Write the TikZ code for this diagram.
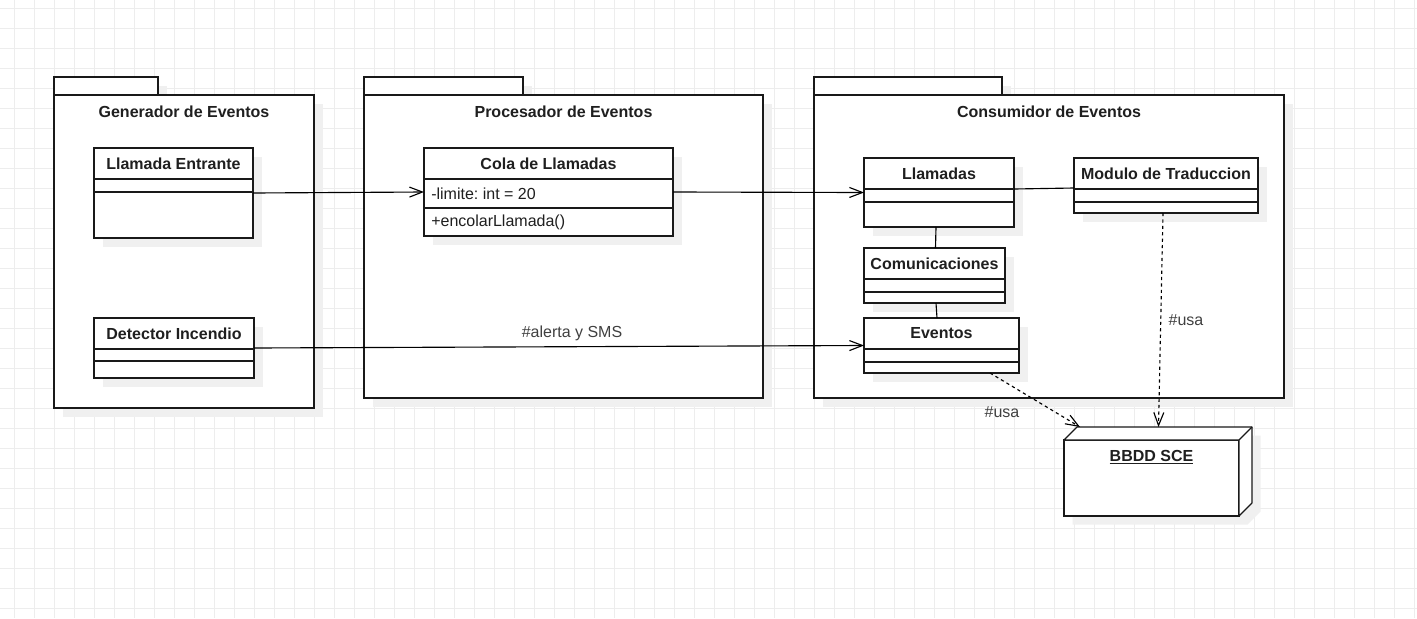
\documentclass[tikz,border=0pt]{standalone}
\usepackage{fontspec}
\setmainfont{Liberation Sans}
\usetikzlibrary{arrows.meta,fit,calc}
\frenchspacing
\tikzset{
 gridline/.style={draw=black!7, line width=0.75pt},
 shade/.style={fill=black!6},
 umlline/.style={draw=black!90, line width=0.85pt},
 umlbox/.style={umlline, fill=white, inner sep=0pt, outer sep=0pt},
 ttl/.style={font=\bfseries\fontsize{12}{14}\selectfont, text=black!88, inner sep=0pt},
 attr/.style={font=\fontsize{12}{14}\selectfont, anchor=west, inner sep=0pt, text=black!88},
 lbl/.style={font=\fontsize{12}{14}\selectfont, text=black!75, inner sep=0pt},
 conn/.style={line width=0.85pt, draw=black},
 assoc/.style={conn, -{Straight Barb[length=9.75pt,width=7.5pt]}},
 dep/.style={assoc, dash pattern=on 2.4pt off 2.4pt},
}
% name, x1, y1, x2, y2, divider1, divider2, title
\newcommand\umlclass[8]{%
 \fill[shade] (#2+8.5,#3+8.5) rectangle (#4+8.5,#5+8.5);
 \path (#2,#3) coordinate (#1-nw) (#4,#5) coordinate (#1-se);
 \node[umlbox, fit=(#1-nw)(#1-se)] (#1) {};
 \draw[umlline] (#2,#6) -- (#4,#6) (#2,#7) -- (#4,#7);
 \node[ttl] (#1-title) at ({(#2+#4)/2},{(#3+#6)/2}) {#8};
}
% name, x1, ytab, xtab, x2, y2, title
\newcommand\umlpkg[7]{%
 \fill[shade] (#2+8.5,#3+8.5) rectangle (#4+8.5,95+8.5);
 \fill[shade] (#2+8.5,95+8.5) rectangle (#5+8.5,#6+8.5);
 \draw[umlline, fill=white] (#2,#3) rectangle (#4,95);
 \path (#2,95) coordinate (#1-nw) (#5,#6) coordinate (#1-se);
 \node[umlbox, fit=(#1-nw)(#1-se)] (#1) {};
 \node[ttl] (#1-title) at ({(#2+#5)/2},112) {#7};
}
\begin{document}
\begin{tikzpicture}[x=0.75pt,y=-0.75pt]
\useasboundingbox (0,0) rectangle (1417,618);
\fill[white] (0,0) rectangle (1417,618);
\foreach \gx in {14,34,...,1414} \draw[gridline] (\gx,0) -- (\gx,618);
\foreach \gy in {8,28,...,608} \draw[gridline] (0,\gy) -- (1417,\gy);

% packages
\umlpkg{gen}{54}{77}{158}{314}{408}{Generador de Eventos}
\umlpkg{proc}{364}{77}{523}{763}{398}{Procesador de Eventos}
\umlpkg{cons}{814}{77}{1002}{1284}{398}{Consumidor de Eventos}

% classes
\umlclass{llamE}{94}{148}{253}{238}{179}{192}{Llamada Entrante}
\umlclass{detector}{94}{318}{254}{378}{349}{361}{Detector Incendio}
\umlclass{cola}{424}{148}{673}{236}{179}{208}{Cola de Llamadas}
\node[attr] (cola-attr) at (431,193.5) {-limite: int = 20};
\node[attr] (cola-op) at (431,222) {+encolarLlamada()};
\umlclass{llamadas}{864}{158}{1014}{227}{189}{202}{Llamadas}
\umlclass{modulo}{1074}{158}{1258}{213}{189}{202}{Modulo de Traduccion}
\umlclass{comunic}{864}{248}{1005}{303}{279}{292}{Comunicaciones}
\umlclass{eventos}{864}{318}{1019}{373}{349}{362}{Eventos}

% database node
\fill[shade] (1064+8.5,440+8.5) -- (1077+8.5,427+8.5) -- (1252+8.5,427+8.5) -- (1252+8.5,503+8.5) -- (1239+8.5,516+8.5) -- (1064+8.5,516+8.5) -- cycle;
\path (1064,440) coordinate (db-nw) (1239,516) coordinate (db-se);
\node[umlbox, fit=(db-nw)(db-se)] (bbdd) {};
\draw[umlline, fill=white, line join=round] (bbdd.north west) -- ++(13,-13) -- ++(175,0) -- ++(0,76) -- (bbdd.south east) -- (bbdd.north east) -- cycle;
\draw[umlline] (bbdd.north east) -- ++(13,-13);
\node[ttl] (bbdd-title) at (1151.5,457) {\underline{BBDD SCE}};

% connectors
\draw[assoc] (llamE.east) -- (cola.west);
\draw[assoc] (cola.east) -- (llamadas.west);
\draw[assoc] (detector.east) -- (eventos.west);
\draw[conn] ($(llamadas.north east)+(0,31)$) -- ($(modulo.north west)+(0,30)$);
\draw[conn] ($(llamadas.south)+(-3,0)$) -- ($(comunic.north)+(1,0)$);
\draw[conn] ($(comunic.south)+(1.5,0)$) -- ($(eventos.north)+(-4.5,0)$);
\draw[dep] ($(eventos.south west)+(126,0)$) -- ($(bbdd.north west)+(16,-13)$);
\draw[dep] ($(modulo.south)+(-3,0)$) -- ($(bbdd.north)+(7,-13)$);

% labels
\node[lbl] (lblalerta) at (572,333) {\#alerta y SMS};
\node[lbl] (lblusa1) at (1186,320) {\#usa};
\node[lbl] (lblusa2) at (1002,412) {\#usa};
\end{tikzpicture}
\end{document}
